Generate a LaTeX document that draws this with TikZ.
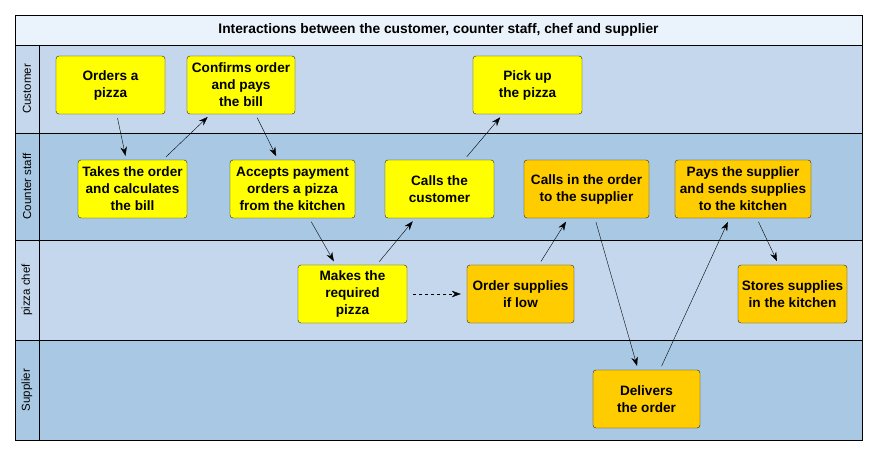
\documentclass[tikz,border=0pt]{standalone}
\usepackage{fontspec}
\setmainfont{Liberation Sans}
\usetikzlibrary{arrows.meta}
\definecolor{lanelight}{HTML}{C4D7ED}
\definecolor{lanedark}{HTML}{A9C8E4}
\definecolor{titlefill}{HTML}{EAF2FC}
\definecolor{taskyellow}{HTML}{FFFF00}
\definecolor{taskorange}{HTML}{FFCC00}
\tikzset{
	task/.style={draw=black!85, rounded corners=3pt, fill=#1, font=\fontsize{13.6}{17}\selectfont\bfseries,
		align=center, minimum height=58pt, inner sep=1pt},
	flow/.style={-{Stealth[length=9pt,width=6.5pt]}, shorten >=4pt, shorten <=4pt},
	lanelabel/.style={rotate=90, font=\fontsize{11.5}{13}\selectfont},
}
\begin{document}
\begin{tikzpicture}[x=1pt,y=-1pt]
	\useasboundingbox (0,0) rectangle (878,455);
	% lanes
	\fill[titlefill] (15,15) rectangle (862,45);
	\fill[lanelight] (15,45) rectangle (862,133);
	\fill[lanedark]  (15,133) rectangle (862,240);
	\fill[lanelight] (15,240) rectangle (862,340);
	\fill[lanedark]  (15,340) rectangle (862,440);
	\draw (15,15) rectangle (862,440);
	\draw (15,45)--(862,45);
	\draw (15,133)--(862,133);
	\draw (15,240)--(862,240);
	\draw (15,340)--(862,340);
	\draw (39,45)--(39,440);
	\node[font=\fontsize{13.8}{15}\selectfont\bfseries] (title) at (438.5,30) {Interactions between the customer, counter staff, chef and supplier};
	\node[lanelabel] (customer) at (27,89) {Customer};
	\node[lanelabel] (counter) at (27,186.5) {Counter staff};
	\node[lanelabel] (chef) at (27,290) {pizza chef};
	\node[lanelabel] (supplier) at (27,390) {Supplier};
	% customer
	\node[task=taskyellow, minimum width=109pt] (orders) at (110.5,85) {Orders a\\pizza};
	\node[task=taskyellow, minimum width=108pt] (confirms) at (241,85) {Confirms order\\and pays\\the bill};
	\node[task=taskyellow, minimum width=109pt] (pickup) at (527.5,85) {Pick up\\the pizza};
	% counter staff
	\node[task=taskyellow, minimum width=109pt] (takes) at (132.5,189) {Takes the order\\and calculates\\the bill};
	\node[task=taskyellow, minimum width=125pt] (accepts) at (292.5,189) {Accepts payment\\orders a pizza\\from the kitchen};
	\node[task=taskyellow, minimum width=109pt] (calls) at (439.5,189) {Calls the\\customer};
	\node[task=taskorange, minimum width=125pt] (callsin) at (586.5,189) {Calls in the order\\to the supplier};
	\node[task=taskorange, minimum width=136pt] (pays) at (743,189) {Pays the supplier\\and sends supplies\\to the kitchen};
	% pizza chef
	\node[task=taskyellow, minimum width=109pt] (makes) at (352.5,294) {Makes the\\required\\pizza};
	\node[task=taskorange, minimum width=107pt] (lowsup) at (520.5,294) {Order supplies\\if low};
	\node[task=taskorange, minimum width=109pt] (stores) at (792.5,294) {Stores supplies\\in the kitchen};
	% supplier
	\node[task=taskorange, minimum width=107pt] (delivers) at (646.5,399) {Delivers\\the order};
	% flows
	\draw[flow] (orders) -- (takes);
	\draw[flow] (takes) -- (confirms);
	\draw[flow] (confirms) -- (accepts);
	\draw[flow] (accepts) -- (makes);
	\draw[flow] (makes) -- (calls);
	\draw[flow] (calls) -- (pickup);
	\draw[flow,dashed,shorten <=6pt,shorten >=6pt] (makes) -- (lowsup);
	\draw[flow] (lowsup) -- (callsin);
	\draw[flow] (callsin) -- (delivers);
	\draw[flow] (delivers) -- (pays);
	\draw[flow] (pays) -- (stores);
\end{tikzpicture}
\end{document}
